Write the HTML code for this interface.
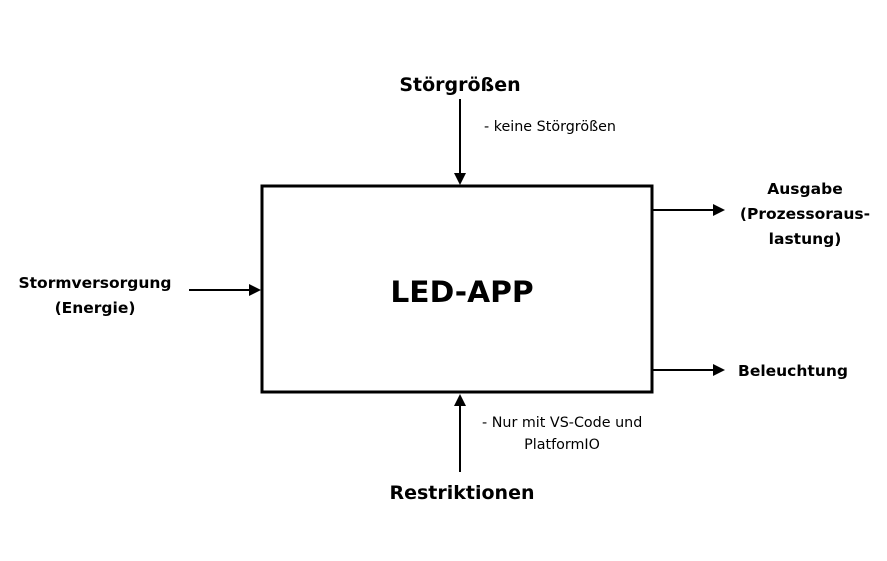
<!DOCTYPE html>
<html><head><meta charset="utf-8"><style>
html,body{margin:0;padding:0;background:#fff;}
body{width:887px;height:556px;overflow:hidden;}
text{font-family:"DejaVu Sans","Liberation Sans",sans-serif;fill:#000;}
.b{font-weight:bold;font-size:15.5px;}
.s{font-size:14.3px;}
</style></head><body>
<svg width="887" height="556" viewBox="0 0 887 556" xmlns="http://www.w3.org/2000/svg">
<rect x="262" y="186" width="390" height="206" fill="#fff" stroke="#000" stroke-width="3"/>
<text x="462" y="302" text-anchor="middle" font-weight="bold" font-size="29.7">LED-APP</text>
<!-- top -->
<text x="460" y="91" text-anchor="middle" font-weight="bold" font-size="19">Störgrößen</text>
<line x1="460" y1="99" x2="460" y2="174" stroke="#000" stroke-width="2"/>
<polygon points="454,173 466,173 460,185" fill="#000"/>
<text class="s" x="484" y="131">- keine Störgrößen</text>
<!-- left -->
<text class="b" x="95" y="288" text-anchor="middle">Stormversorgung</text>
<text class="b" x="95" y="313" text-anchor="middle">(Energie)</text>
<line x1="189" y1="290" x2="250" y2="290" stroke="#000" stroke-width="2"/>
<polygon points="249,284 249,296 261,290" fill="#000"/>
<!-- right top -->
<line x1="653" y1="210" x2="714" y2="210" stroke="#000" stroke-width="2"/>
<polygon points="713,204 713,216 725,210" fill="#000"/>
<text class="b" x="805" y="194" text-anchor="middle">Ausgabe</text>
<text class="b" x="805" y="219" text-anchor="middle">(Prozessoraus-</text>
<text class="b" x="805" y="244" text-anchor="middle">lastung)</text>
<!-- right bottom -->
<line x1="653" y1="370" x2="714" y2="370" stroke="#000" stroke-width="2"/>
<polygon points="713,364 713,376 725,370" fill="#000"/>
<text class="b" x="738" y="376">Beleuchtung</text>
<!-- bottom -->
<line x1="460" y1="472" x2="460" y2="405" stroke="#000" stroke-width="2"/>
<polygon points="454,406 466,406 460,394" fill="#000"/>
<text class="s" x="482" y="427">- Nur mit VS-Code und</text>
<text class="s" x="562" y="449" text-anchor="middle">PlatformIO</text>
<text x="462" y="499" text-anchor="middle" font-weight="bold" font-size="19">Restriktionen</text>
</svg>
</body></html>
